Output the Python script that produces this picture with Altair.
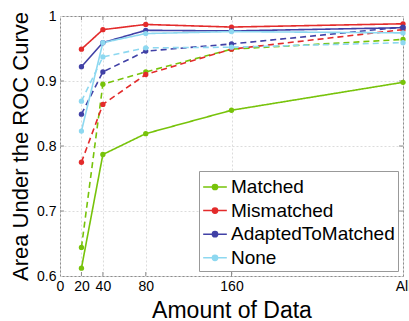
import altair as alt
import pandas as pd

x_vals = [20, 40, 80, 160, 320]
methods = ["Matched", "Mismatched", "AdaptedToMatched", "None"]
colors = ["#77c30a", "#e32b2b", "#4141a6", "#8dd8f0"]

matched_solid = [0.612, 0.787, 0.819, 0.855, 0.898]
matched_dashed = [0.644, 0.895, 0.914, 0.949, 0.964]
mismatched_solid = [0.949, 0.979, 0.987, 0.983, 0.988]
mismatched_dashed = [0.775, 0.864, 0.910, 0.949, 0.979]
adapted_solid = [0.922, 0.959, 0.978, 0.977, 0.982]
adapted_dashed = [0.849, 0.914, 0.946, 0.957, 0.983]
none_solid = [0.823, 0.959, 0.973, 0.976, 0.974]
none_dashed = [0.869, 0.937, 0.951, 0.952, 0.959]

x_ticks = [0, 20, 40, 80, 160, 320]
y_ticks = [0.6, 0.7, 0.8, 0.9, 1.0]

series = [
    ("Matched", "solid", matched_solid),
    ("Matched", "dashed", matched_dashed),
    ("Mismatched", "solid", mismatched_solid),
    ("Mismatched", "dashed", mismatched_dashed),
    ("AdaptedToMatched", "solid", adapted_solid),
    ("AdaptedToMatched", "dashed", adapted_dashed),
    ("None", "solid", none_solid),
    ("None", "dashed", none_dashed),
]
rows = []
for i, (m, s, vals) in enumerate(series):
    for x, v in zip(x_vals, vals):
        rows.append({"method": m, "style": s, "x": x, "auc": v, "order": i})
df = pd.DataFrame(rows)

FONT = "Liberation Sans"
W, H = 343, 260

xscale = alt.Scale(domain=[0, 320], nice=False, zero=False)
yscale = alt.Scale(domain=[0.6, 1.0], nice=False, zero=False)

color = alt.Color(
    "method:N",
    scale=alt.Scale(domain=methods, range=colors),
    sort=methods,
    legend=alt.Legend(
        title=None,
        orient="none",
        legendX=139,
        legendY=155,
        direction="vertical",
        labelFont=FONT,
        labelFontSize=19,
        labelColor="black",
        symbolType="M-1,0H1M-0.22,0A0.22,0.22 0 1,0 0.22,0A0.22,0.22 0 1,0 -0.22,0Z",
        symbolSize=560,
        symbolStrokeWidth=1.5,
        symbolOpacity=1,
        rowPadding=0.6,
        labelOffset=3,
        strokeColor="#999999",
        fillColor="white",
        padding=3,
        labelLimit=300,
    ),
)

lines = alt.Chart(df).mark_line(strokeWidth=1.6, point=alt.OverlayMarkDef(filled=True, size=28)).encode(
    x=alt.X("x:Q", scale=xscale,
            axis=alt.Axis(values=x_ticks, title="Amount of Data",
                          labelExpr="datum.value == 320 ? 'All' : datum.label",
                          grid=True)),
    y=alt.Y("auc:Q", scale=yscale,
            axis=alt.Axis(values=y_ticks, title="Area Under the ROC Curve",
                          labelExpr="datum.value == 1 ? '1' : format(datum.value, '.1f')",
                          grid=True)),
    color=color,
    strokeDash=alt.StrokeDash("style:N", scale=alt.Scale(domain=["solid", "dashed"], range=[[1, 0], [6, 4]]), legend=None),
    detail="order:N",
    order="x:Q",
)

xt = pd.DataFrame({"t": x_ticks[1:-1]})
yt = pd.DataFrame({"t": y_ticks[1:-1]})
tick_col = "#8c8c8c"
bt = alt.Chart(xt).mark_rule(color=tick_col, strokeWidth=1).encode(
    x=alt.X("t:Q", scale=xscale), y=alt.value(H), y2=alt.value(H - 4))
tt = alt.Chart(xt).mark_rule(color=tick_col, strokeWidth=1).encode(
    x=alt.X("t:Q", scale=xscale), y=alt.value(0), y2=alt.value(4))
lt = alt.Chart(yt).mark_rule(color=tick_col, strokeWidth=1).encode(
    y=alt.Y("t:Q", scale=yscale), x=alt.value(0), x2=alt.value(4))
rt = alt.Chart(yt).mark_rule(color=tick_col, strokeWidth=1).encode(
    y=alt.Y("t:Q", scale=yscale), x=alt.value(W), x2=alt.value(W - 4))

chart = alt.layer(bt, tt, lt, rt, lines).properties(
    width=W, height=H,
    autosize=alt.AutoSizeParams(type="none"),
    padding={"left": 60, "top": 16, "right": 6, "bottom": 45},
    background="white",
).configure_view(stroke="#8c8c8c", strokeWidth=1).configure_axis(
    domain=False, ticks=False,
    labelFont=FONT, labelFontSize=14, labelColor="black",
    titleFont=FONT, titleFontWeight="normal", titleColor="black",
    gridColor="#dcdcdc", gridDash=[2, 2], gridWidth=1,
).configure_axisX(labelPadding=3, titleFontSize=23, titleY=41, titleBaseline="alphabetic",
                  labelFlush=False
).configure_axisY(labelPadding=4, titleFontSize=22, titleX=-33, titleY=130,
                  titleBaseline="alphabetic", titleAlign="center")

chart.save("out.html", embed_options={"renderer": "svg", "actions": False})
